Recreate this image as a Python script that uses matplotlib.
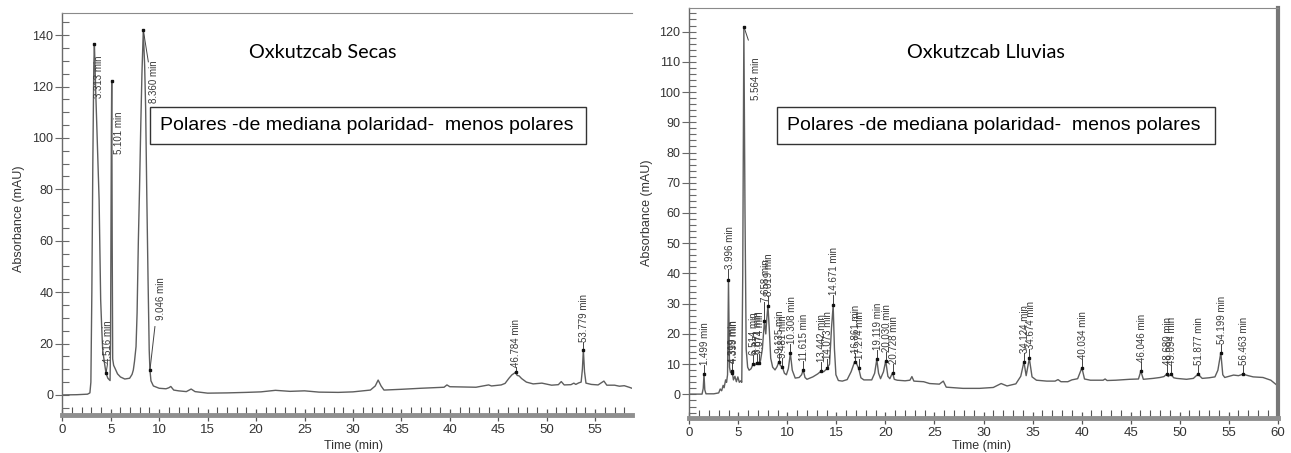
import matplotlib.pyplot as plt
from matplotlib.patches import Rectangle
from matplotlib.ticker import MultipleLocator

# ---- Oxkutzcab, dry season (Secas): trace points between labelled peaks (min, mAU)
secas_t = [0.0, 1.5, 2.6, 2.85, 2.95, 3.05, 3.15, 3.25, 3.45, 3.6, 3.8, 3.96, 4.07,
           4.17, 4.35, 4.7, 4.93, 4.98, 5.03, 5.07, 5.15, 5.2, 5.3, 5.45, 5.7, 6.0,
           6.45, 6.95, 7.2, 7.33, 7.45, 7.61, 7.72, 7.85, 7.97, 8.1, 8.22, 8.5, 8.6,
           8.72, 8.85, 8.97, 9.15, 9.4, 10.0, 10.7, 11.0, 11.2, 11.5, 12.0, 12.8, 13.3,
           13.7, 15.0, 17.0, 19.0, 20.5, 22.0, 23.5, 25.0, 26.5, 28.5, 30.0, 31.8,
           32.3, 32.6, 32.9, 33.2, 35.0, 37.0, 39.4, 39.7, 40.0, 42.7, 44.0, 44.3,
           45.3, 45.7, 46.1, 46.4, 46.95, 47.15, 47.4, 47.9, 48.6, 49.5, 50.5, 51.2,
           51.5, 51.8, 52.5, 52.8, 53.0, 53.3, 53.55, 53.68, 53.9, 54.05, 54.6, 55.3,
           55.9, 56.2, 57.0, 57.5, 58.0, 58.5, 58.8]
secas_v = [0.0, 0.1, 0.3, 0.8, 5.0, 40.0, 90.0, 128.0, 118.0, 100.0, 75.8, 37.0, 26.0,
           17.5, 12.5, 6.5, 5.6, 20.0, 70.0, 105.0, 60.0, 14.0, 11.5, 10.3, 8.2, 7.0,
           6.2, 6.5, 8.0, 9.7, 13.0, 18.8, 32.0, 60.0, 80.0, 105.0, 125.0, 128.0,
           112.0, 78.0, 45.0, 17.5, 5.5, 3.5, 2.6, 2.4, 2.8, 3.3, 1.9, 1.6, 1.3, 2.3,
           1.3, 0.7, 0.8, 1.0, 1.2, 1.8, 1.4, 1.6, 1.1, 1.0, 1.2, 1.9, 3.5, 5.8, 3.5,
           1.9, 2.2, 2.6, 3.0, 3.9, 3.2, 3.0, 3.9, 3.5, 3.9, 4.5, 6.5, 7.8, 7.6, 7.4,
           6.4, 5.0, 4.3, 4.6, 3.8, 4.0, 5.2, 3.9, 4.0, 4.6, 4.1, 4.7, 5.0, 10.0, 9.0,
           4.6, 4.1, 3.9, 5.4, 3.8, 3.8, 3.4, 3.6, 3.0, 2.6]
secas_peak_t = [3.313, 4.516, 5.101, 8.360, 9.046, 46.784, 53.779]
secas_peak_v = [136.4, 8.4, 122.0, 142.0, 9.7, 8.8, 17.6]

# ---- Oxkutzcab, rainy season (Lluvias)
lluvias_t = [0.0, 1.3, 1.42, 1.58, 1.7, 2.5, 3.0, 3.15, 3.3, 3.45, 3.55, 3.7, 3.8, 3.9,
             4.1, 4.2, 4.5, 4.65, 4.8, 4.95, 5.1, 5.25, 5.35, 5.45, 5.68, 5.8, 5.95,
             6.1, 6.3, 6.65, 6.95, 7.25, 7.45, 7.8, 7.9, 8.15, 8.3, 8.5, 8.74, 8.95,
             9.3, 9.7, 9.9, 10.1, 10.5, 10.8, 11.2, 11.45, 11.8, 12.0, 12.6, 13.1,
             13.7, 14.3, 14.5, 14.8, 14.95, 15.2, 15.6, 16.1, 16.5, 17.05, 17.5, 17.8,
             18.6, 18.9, 19.3, 19.5, 19.8, 20.25, 20.45, 20.9, 21.2, 22.0, 22.5, 22.7,
             22.9, 23.9, 24.5, 25.5, 25.9, 26.2, 27.9, 29.6, 31.0, 31.8, 32.4, 33.3,
             33.8, 34.35, 34.95, 35.4, 36.45, 37.3, 37.6, 37.9, 38.6, 39.0, 39.6, 40.3,
             40.9, 42.2, 42.4, 42.6, 43.5, 44.9, 45.8, 46.3, 47.3, 48.0, 48.4, 48.85,
             49.4, 49.7, 50.7, 51.4, 52.3, 53.0, 53.6, 53.9, 54.4, 54.6, 55.5, 56.0,
             57.0, 57.5, 58.5, 59.3, 59.9, 60.0]
lluvias_v = [0.1, 0.1, 2.0, 1.5, 0.2, 0.2, 0.5, 1.8, 1.2, 3.0, 2.2, 4.8, 4.0, 6.5,
             9.0, 7.2, 4.8, 6.0, 4.2, 5.8, 4.0, 4.5, 4.0, 40.0, 60.0, 15.0, 9.0,
             8.0, 8.5, 9.5, 10.0, 11.0, 15.0, 20.0, 25.0, 22.0, 12.0, 9.0, 8.1, 9.2,
             9.5, 7.0, 6.5, 8.5, 8.0, 5.4, 5.6, 6.5, 5.6, 5.0, 5.8, 6.8,
             7.5, 10.0, 22.0, 15.0, 6.5, 4.6, 4.4, 4.9, 7.5, 10.2, 5.5, 4.8,
             4.8, 7.0, 7.0, 5.2, 7.5, 6.0, 5.2, 5.0, 4.7, 4.5, 4.7, 5.9,
             4.4, 4.2, 3.6, 3.4, 4.4, 2.4, 2.0, 2.0, 2.3, 3.6, 2.8, 3.5,
             6.0, 6.2, 5.8, 4.7, 4.4, 4.4, 4.9, 4.2, 4.2, 4.8, 5.2, 5.1,
             4.7, 4.7, 5.1, 4.6, 4.7, 5.0, 5.1, 5.0, 5.3, 5.6, 5.9, 5.9,
             5.5, 5.3, 5.0, 5.3, 5.3, 5.5, 5.8, 8.0, 6.5, 5.6, 6.4, 6.2,
             6.2, 5.8, 5.6, 4.7, 3.1, 3.0]
lluvias_peak_t = [1.499, 3.996, 4.319, 4.399, 5.564, 6.514, 6.871, 7.074, 7.658, 8.019,
                  9.135, 9.481, 10.308, 11.615, 13.442, 14.073, 14.671, 16.861, 17.274,
                  19.119, 20.030, 20.728, 34.124, 34.674, 40.034, 46.046, 48.680,
                  49.094, 51.877, 54.199, 56.463]
lluvias_peak_v = [6.7, 38.0, 7.6, 7.0, 121.6, 10.1, 10.5, 10.5, 24.2, 29.4,
                  10.8, 9.2, 13.6, 8.1, 7.7, 8.6, 29.5, 10.8, 8.6,
                  11.6, 11.1, 7.2, 10.8, 11.9, 8.8, 7.7, 6.7,
                  6.7, 6.7, 13.8, 6.7]

# label placement: text x, text start height, leader end (None -> vertical leader)
secas_lab_x = [3.79, 4.69, 5.85, 9.47, 10.19, 46.85, 53.87]
secas_lab_y = [115.5, 12.4, 93.7, 113.6, 29.0, 10.9, 20.5]
secas_lead = [False, (4.66, 12.0), False, (8.88, 129.6), (9.56, 26.6), None, None]

lluvias_lab_x = [t + 0.12 for t in lluvias_peak_t]
lluvias_lab_x[4] = 6.78
lluvias_lab_y = [v + 3.0 for v in lluvias_peak_v]
lluvias_lab_y[1] = 41.5
lluvias_lab_y[2] = 10.5
lluvias_lab_y[3] = 10.5
lluvias_lab_y[4] = 97.4
lluvias_lab_y[8] = 30.5
lluvias_lab_y[9] = 32.5
lluvias_lab_y[16] = 33.0
lluvias_lead = [None] * len(lluvias_peak_t)
lluvias_lead[4] = (6.02, 117.2)

W, H = 1291, 453
TRACE = '#5e5e5e'
AXIS = '#6a6a6a'
TXT = '#333333'

fig = plt.figure(figsize=(W / 100, H / 100), dpi=100)
fig.patch.set_facecolor('white')


def px_box(x0, y0, x1, y1):
    return [x0 / W, 1 - y1 / H, (x1 - x0) / W, (y1 - y0) / H]


def draw_panel(ax, t, v, pk_t, pk_v, lab_x, lab_y, lead, xmax, ylim, ymaj, ymin, ymax_label):
    pts = sorted(zip(list(t) + list(pk_t), list(v) + list(pk_v)))
    ax.plot([p[0] for p in pts], [p[1] for p in pts], color=TRACE, lw=1.0)
    ax.plot(pk_t, pk_v, 's', ms=2.0, color='#111111', zorder=4)
    for i, (pt, pv) in enumerate(zip(pk_t, pk_v)):
        ld = lead[i]
        if ld is None:
            ax.plot([pt, pt], [pv, lab_y[i]], color='#444444', lw=0.7)
        elif ld:
            ax.plot([pt, ld[0]], [pv, ld[1]], color='#444444', lw=0.7)
        ax.text(lab_x[i], lab_y[i], '%.3f min' % pt, rotation=90, ha='center',
                va='bottom', fontsize=7, color='#3a3a3a', family='Liberation Sans')

    ax.set_xlim(0, xmax)
    ax.xaxis.set_major_locator(MultipleLocator(5))
    ax.xaxis.set_minor_locator(MultipleLocator(1))
    ax.yaxis.set_minor_locator(MultipleLocator(ymin))
    ax.set_yticks(range(0, ymax_label + 1, ymaj))
    ax.set_ylim(*ylim)

    ax.tick_params(axis='y', which='major', direction='inout', length=10, width=0.8,
                   color=AXIS, labelsize=9, labelcolor=TXT, pad=1.5)
    ax.tick_params(axis='y', which='minor', direction='in', length=5, width=0.8, color=AXIS)
    ax.tick_params(axis='x', which='major', direction='inout', length=9, width=0.9,
                   color='#555555', labelsize=9.5, labelcolor=TXT, pad=2)
    ax.tick_params(axis='x', which='minor', direction='in', length=6, width=0.8,
                   color='#555555')
    for lab in ax.get_xticklabels() + ax.get_yticklabels():
        lab.set_family('Liberation Sans')

    ax.spines['left'].set_color(AXIS)
    ax.spines['left'].set_linewidth(1.0)
    ax.spines['top'].set_color('#8a8a8a')
    ax.spines['top'].set_linewidth(0.8)
    ax.spines['bottom'].set_color('#8f8f8f')
    ax.spines['bottom'].set_linewidth(3.5)
    ax.set_facecolor('white')


# left chromatogram
ax1 = fig.add_axes(px_box(62.3, 13, 632, 415))
draw_panel(ax1, secas_t, secas_v, secas_peak_t, secas_peak_v, secas_lab_x, secas_lab_y,
           secas_lead, 58.8, (-7.8, 148.6), 20, 5, 140)
ax1.spines['right'].set_visible(False)

# right chromatogram
ax2 = fig.add_axes(px_box(689.3, 8.3, 1277.7, 418))
draw_panel(ax2, lluvias_t, lluvias_v, lluvias_peak_t, lluvias_peak_v, lluvias_lab_x,
           lluvias_lab_y, lluvias_lead, 60, (-7.8, 127.7), 10, 2, 120)
ax2.spines['right'].set_color('#777777')
ax2.spines['right'].set_linewidth(3.0)

# axis titles
for x, y in [(19, 219), (647, 213)]:
    fig.text(x / W, 1 - y / H, 'Absorbance (mAU)', rotation=90, ha='center', va='center',
             fontsize=9, color=TXT, family='Liberation Sans')
for x in [353, 982]:
    fig.text(x / W, 1 - 440 / H, 'Time (min)', ha='center', va='top',
             fontsize=9, color=TXT, family='Liberation Sans')

# sample names
fig.text(249 / W, 1 - 52 / H, 'Oxkutzcab Secas', ha='left', va='center',
         fontsize=14.3, color='black', family='Lato')
fig.text(906.7 / W, 1 - 52 / H, 'Oxkutzcab Lluvias', ha='left', va='center',
         fontsize=14.3, color='black', family='Lato')

# polarity boxes
box_text = 'Polares -de mediana polaridad-  menos polares'
for x0, x1 in [(150, 586), (777, 1215)]:
    fig.add_artist(Rectangle((x0 / W, 1 - 144 / H), (x1 - x0) / W, 37 / H,
                             transform=fig.transFigure, facecolor='white',
                             edgecolor='#333333', lw=1.0))
    fig.text((x0 + 9.5) / W, 1 - 125.5 / H, box_text, ha='left', va='center',
             fontsize=14, color='black', family='Liberation Sans')

fig.savefig('out.png', dpi=100)
